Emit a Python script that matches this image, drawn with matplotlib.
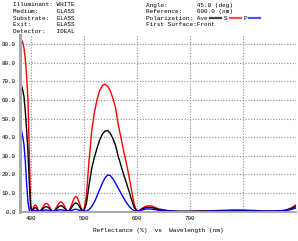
import matplotlib
matplotlib.use("Agg")
import matplotlib.pyplot as plt
from matplotlib.lines import Line2D

# wavelength (nm)
wavelength = [380, 382.5, 385, 387.5, 390, 392.5, 395, 397.5, 400, 402.5, 405, 407.5,
              410, 412.5, 415, 417.5, 420, 422.5, 425, 427.5, 430, 432.5, 435, 437.5,
              440, 442.5, 445, 447.5, 450, 452.5, 455, 457.5, 460, 462.5, 465, 467.5,
              470, 472.5, 475, 477.5, 480, 482.5, 485, 487.5, 490, 492.5, 495, 497.5, 500,
              505, 510, 515, 520, 525, 530, 535, 540, 545, 550, 555, 560, 565, 570, 575,
              580, 585, 590, 595, 600, 605, 610, 615, 620, 625, 630, 635, 640,
              660, 680, 700, 720, 740, 760, 780, 800, 820, 840, 860, 880, 890, 900]

# reflectance (%)
refl_ave = [70, 68, 65.5, 62, 54, 44, 32, 16, 2.0, 0.3, 1.2, 2.0,
            2.0, 1.2, 0.2, 0.15, 0.7, 1.3, 2.0, 2.5, 2.6, 2.3, 1.7, 1.0,
            0.25, 0.0, 0.35, 1.0, 1.7, 2.5, 3.0, 3.1, 2.8, 2.1, 1.3, 0.55,
            0.05, 0.3, 1.2, 2.3, 3.4, 4.3, 4.6, 4.4, 3.5, 2.4, 1.2, 0.35, 0.0,
            4.1, 14, 23, 29, 34, 38.4, 41.5, 43.3, 43.6, 42.2, 39.3, 35.6, 29.8, 25, 20.2,
            15.8, 11.2, 6.5, 2.3, 0.2, 0.45, 1.25, 1.9, 2.2, 2.25, 2.0, 1.6, 1.1,
            0.3, 0.05, 0.08, 0.2, 0.25, 0.4, 0.55, 0.55, 0.4, 0.2, 0.2, 0.6, 1.4, 2.75]

refl_s = [93, 92.5, 91, 88, 82, 73, 60, 32, 4.0, 0.3, 1.9, 3.3,
          3.4, 2.0, 0.3, 0.2, 1.0, 2.1, 3.2, 4.1, 4.4, 3.9, 2.9, 1.6,
          0.4, 0.0, 0.6, 1.6, 2.8, 4.1, 5.0, 5.2, 4.7, 3.6, 2.2, 0.9,
          0.1, 0.5, 2.0, 3.9, 5.8, 7.4, 8.0, 7.6, 6.0, 4.1, 2.0, 0.6, 0.0,
          8, 27, 43, 53, 60, 65, 67.8, 68.5, 67.5, 65, 61, 56, 47, 40, 33,
          26.5, 19.5, 11.5, 4, 0.2, 0.6, 1.7, 2.6, 3.0, 3.1, 2.8, 2.2, 1.5,
          0.4, 0.05, 0.1, 0.3, 0.4, 0.6, 0.8, 0.8, 0.6, 0.3, 0.2, 0.7, 1.8, 3.6]

refl_p = [47, 44, 40.5, 36, 27, 15, 5, 0.5, 0.1, 0.3, 0.5, 0.6,
          0.5, 0.3, 0.1, 0.1, 0.3, 0.5, 0.7, 0.8, 0.8, 0.7, 0.5, 0.3,
          0.1, 0.0, 0.1, 0.3, 0.6, 0.8, 0.9, 0.9, 0.8, 0.6, 0.4, 0.2,
          0.0, 0.1, 0.3, 0.6, 0.9, 1.1, 1.2, 1.1, 0.9, 0.6, 0.3, 0.1, 0.0,
          0.2, 1.0, 2.6, 5.0, 8.2, 11.8, 15.2, 18.0, 19.6, 19.4, 17.6, 15.2, 12.6, 10.0, 7.4,
          5.0, 3.0, 1.5, 0.5, 0.1, 0.3, 0.8, 1.2, 1.4, 1.4, 1.2, 1.0, 0.7,
          0.2, 0.05, 0.05, 0.1, 0.1, 0.2, 0.3, 0.3, 0.2, 0.1, 0.2, 0.5, 1.0, 1.9]

yticks = [0, 10, 20, 30, 40, 50, 60, 70, 80, 90]
xticks = [400, 500, 600, 700, 800, 900]
xtick_labels = ["400", "500", "600", "700", "", ""]

left_info = ["Illuminant: WHITE", "Medium:     GLASS", "Substrate:  GLASS",
             "Exit:       GLASS", "Detector:   IDEAL"]
right_info = ["Angle:        45.0 (deg)", "Reference:    600.0 (nm)",
              "Polarization: Ave", "First Surface:Front"]

MONO = "Liberation Mono"
W, H = 298, 241

fig = plt.figure(figsize=(W / 100, H / 100), dpi=100)
ax = fig.add_axes([20 / W, (H - 211.5) / H, 276 / W, (211.5 - 35) / H])

ax.plot(wavelength, refl_s, color="#ff0000", lw=1.0)
ax.plot(wavelength, refl_ave, color="#000000", lw=1.0)
ax.plot(wavelength, refl_p, color="#0000ff", lw=1.0)

ax.set_xlim(380, 900)
ax.set_ylim(0, 95)
ax.set_xticks(xticks)
ax.set_xticklabels(xtick_labels)
ax.set_yticks(yticks)
ax.set_yticklabels([f"{v:.1f}" for v in yticks])
ax.tick_params(length=0, labelsize=4.2, pad=3)
for lab in ax.get_xticklabels() + ax.get_yticklabels():
    lab.set_family(MONO)
ax.grid(True, color="#909090", linestyle=(0, (1, 1.5)), linewidth=0.8)
ax.set_axisbelow(True)

for side in ["top", "right"]:
    ax.spines[side].set_visible(False)
ax.spines["left"].set_color("#a8a8a8")
ax.spines["left"].set_linewidth(2.2)
ax.spines["bottom"].set_color("#a8a8a8")
ax.spines["bottom"].set_linewidth(1.4)

ax.set_xlabel("Reflectance (%)  vs  Wavelength (nm)", family=MONO, fontsize=4.4, labelpad=5)

# header block
row_y = [5, 11.6, 18.2, 24.8, 31.4]
for txt, y in zip(left_info, row_y):
    fig.text(13 / W, 1 - y / H, txt, family=MONO, fontsize=4.3, va="center")
for txt, y in zip(right_info, row_y):
    fig.text(146 / W, 1 - y / H, txt, family=MONO, fontsize=4.3, va="center")

# polarization legend swatches
pol_y = 1 - row_y[2] / H
fig.add_artist(Line2D([210 / W, 221 / W], [pol_y, pol_y], color="#404040", lw=1.6))
fig.text(224 / W, pol_y, "S", family=MONO, fontsize=4.3, va="center")
fig.add_artist(Line2D([230 / W, 241 / W], [pol_y, pol_y], color="#ff5050", lw=1.6))
fig.text(244 / W, pol_y, "P", family=MONO, fontsize=4.3, va="center")
fig.add_artist(Line2D([249 / W, 260 / W], [pol_y, pol_y], color="#5050ff", lw=1.6))

fig.savefig("out.png", dpi=100)
